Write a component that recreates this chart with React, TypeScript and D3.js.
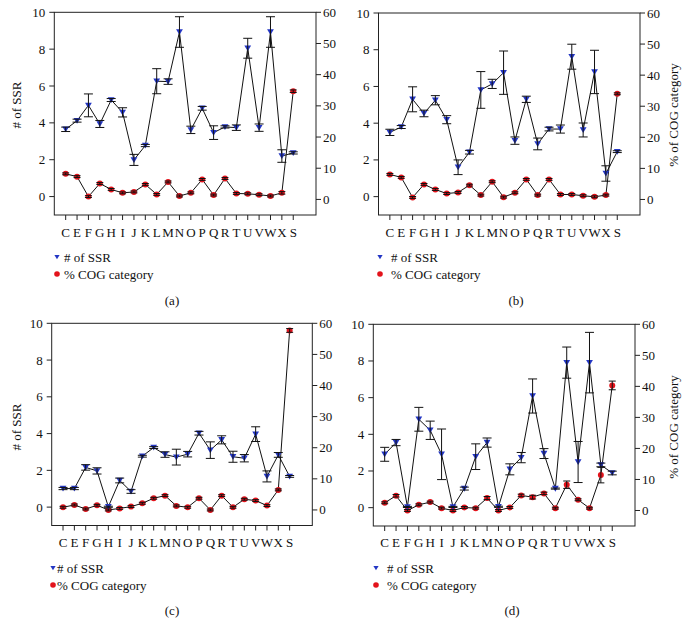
import React from 'react';
import * as d3 from 'd3';

// COG categories on the x axis
const cats = ["C", "E", "F", "G", "H", "I", "J", "K", "L", "M", "N", "O", "P", "Q", "R", "T", "U", "V", "W", "X", "S"];

// left axis ticks (# of SSR) and right axis ticks (% of COG category)
const leftTicks = [0, 2, 4, 6, 8, 10];
const rightTicks = [0, 10, 20, 30, 40, 50, 60];

// panel (a)
const ssrA = [3.65, 4.12, 4.95, 3.94, 5.24, 4.57, 1.99, 2.77, 6.26, 6.24, 8.93, 3.62, 4.79, 3.47, 3.78, 3.74, 8.05, 3.74, 8.93, 2.2, 2.37];
const ssrErrA = [0.12, 0.08, 0.62, 0.19, 0.08, 0.25, 0.3, 0.06, 0.68, 0.15, 0.83, 0.2, 0.1, 0.37, 0.06, 0.15, 0.54, 0.2, 0.83, 0.34, 0.06];
const cogA = [8.2, 7.3, 0.9, 5.1, 3.2, 2.1, 2.4, 4.8, 1.6, 5.6, 1.1, 2.1, 6.4, 1.4, 6.7, 1.9, 1.8, 1.5, 1.1, 2.1, 34.7];
const cogErrA = [0.3, 0.3, 0.3, 0.3, 0.3, 0.3, 0.3, 0.3, 0.3, 0.3, 0.3, 0.3, 0.3, 0.3, 0.3, 0.3, 0.3, 0.3, 0.3, 0.4, 0.4];

// panel (b)
const ssrB = [3.5, 3.79, 5.3, 4.53, 5.25, 4.19, 1.6, 2.42, 5.81, 6.14, 6.75, 3.05, 5.3, 2.87, 3.68, 3.68, 7.62, 3.63, 6.79, 1.26, 2.45];
const ssrErrB = [0.17, 0.08, 0.68, 0.18, 0.25, 0.22, 0.4, 0.1, 1.0, 0.25, 1.18, 0.2, 0.17, 0.32, 0.1, 0.22, 0.68, 0.38, 1.18, 0.42, 0.05];
const cogB = [8.06, 7.1, 0.65, 4.84, 3.2, 1.9, 2.26, 4.6, 1.4, 5.7, 0.75, 2.15, 6.45, 1.4, 6.45, 1.6, 1.6, 1.2, 0.86, 1.4, 34];
const cogErrB = [0.3, 0.3, 0.3, 0.3, 0.3, 0.3, 0.3, 0.3, 0.3, 0.3, 0.3, 0.3, 0.3, 0.3, 0.3, 0.3, 0.3, 0.3, 0.3, 0.3, 0.3];

// panel (c)
const ssrC = [1.01, 1.01, 2.16, 1.97, 0.02, 1.45, 0.85, 2.77, 3.24, 2.86, 2.72, 2.88, 4.02, 3.1, 3.66, 2.74, 2.66, 3.97, 1.67, 2.84, 1.67];
const ssrErrC = [0.06, 0.06, 0.15, 0.17, 0.03, 0.13, 0.1, 0.05, 0.05, 0.15, 0.43, 0.15, 0.1, 0.45, 0.22, 0.3, 0.2, 0.4, 0.3, 0.13, 0.05];
const cogC = [0.86, 1.6, 0.3, 1.5, 0, 0.5, 1.07, 2.15, 3.76, 4.6, 1.3, 0.86, 3.76, 0, 4.6, 0.86, 3.44, 3.0, 1.4, 6.45, 57.7];
const cogErrC = [0.3, 0.3, 0.3, 0.3, 0.3, 0.3, 0.3, 0.3, 0.3, 0.3, 0.3, 0.3, 0.3, 0.3, 0.3, 0.3, 0.3, 0.3, 0.3, 0.3, 0.6];

// panel (d)
const ssrD = [2.91, 3.55, 0.04, 4.82, 4.22, 2.91, 0.04, 1.04, 2.78, 3.55, 0.05, 2.09, 2.73, 6.09, 2.95, 1.04, 7.91, 2.49, 7.91, 2.33, 1.89];
const ssrErrD = [0.38, 0.17, 0.03, 0.65, 0.5, 1.38, 0.03, 0.08, 0.7, 0.25, 0.03, 0.3, 0.28, 0.93, 0.27, 0.03, 0.85, 1.12, 1.65, 0.1, 0.1];
const cogD = [2.48, 4.74, 0, 1.83, 2.7, 0.75, 0, 0.97, 0.75, 4.0, 0, 0.97, 4.85, 4.3, 5.5, 0.75, 8.3, 3.45, 0.75, 11.4, 40.3];
const cogErrD = [0.3, 0.4, 0.3, 0.3, 0.3, 0.3, 0.3, 0.3, 0.3, 0.5, 0.3, 0.3, 0.4, 0.6, 0.4, 0.3, 1.2, 0.3, 0.3, 2.5, 1.4];

const FONT = 'Liberation Serif, Times New Roman, serif';
const BLUE = '#2336c4';
const RED = '#e3131b';

interface PanelProps {
  ssr: number[];
  ssrErr: number[];
  cog: number[];
  cogErr: number[];
  x0: number; x1: number; y0: number; y1: number;
  caption: string;
  capX: number; capY: number;
  labelY: number;
  legY: number;
  legMarkX: number; legTextX: number;
  leftTitle?: { x: number; y: number };
  rightTitle?: { x: number; y: number };
}

const Tri: React.FC<{ x: number; y: number; s?: number }> = ({ x, y, s = 3.4 }) => (
  <path d={`M${x - s},${y - s * 0.8}L${x + s},${y - s * 0.8}L${x},${y + s * 0.9}Z`} fill={BLUE} />
);

const Panel: React.FC<PanelProps> = (p) => {
  const x = d3.scaleLinear().domain([0, 23]).range([p.x0, p.x1]);
  const yl = d3.scaleLinear().domain([-1, 10]).range([p.y1, p.y0]);
  const yr = d3.scaleLinear().domain([-5, 60]).range([p.y1, p.y0]);

  const ssrLine = d3.line<number>().x((_, i) => x(i + 1)).y(d => yl(d));
  const cogLine = d3.line<number>().x((_, i) => x(i + 1)).y(d => yr(d));

  const errBar = (cx: number, top: number, bot: number, w: number, key: string) => (
    <g key={key} stroke="#111" strokeWidth={1} fill="none">
      <line x1={cx} x2={cx} y1={top} y2={bot} />
      <line x1={cx - w} x2={cx + w} y1={top} y2={top} />
      <line x1={cx - w} x2={cx + w} y1={bot} y2={bot} />
    </g>
  );

  return (
    <g style={{ fontFamily: FONT }} fontSize={13} fill="#111">
      {/* frame */}
      <rect x={p.x0} y={p.y0} width={p.x1 - p.x0} height={p.y1 - p.y0} fill="none" stroke="#222" strokeWidth={1} />
      {leftTicks.map(t => (
        <g key={'l' + t}>
          <line x1={p.x0 - 5} x2={p.x0} y1={yl(t)} y2={yl(t)} stroke="#222" />
          <text x={p.x0 - 9} y={yl(t)} textAnchor="end" dominantBaseline="central">{t}</text>
        </g>
      ))}
      {rightTicks.map(t => (
        <g key={'r' + t}>
          <line x1={p.x1} x2={p.x1 + 5} y1={yr(t)} y2={yr(t)} stroke="#222" />
          <text x={p.x1 + 7} y={yr(t)} textAnchor="start" dominantBaseline="central">{t}</text>
        </g>
      ))}
      {cats.map((c, i) => (
        <g key={'x' + c}>
          <line x1={x(i + 1)} x2={x(i + 1)} y1={p.y1} y2={p.y1 + 5} stroke="#222" />
          <text x={x(i + 1)} y={p.labelY} textAnchor="middle" dominantBaseline="central">{c}</text>
        </g>
      ))}
      {p.leftTitle && (
        <text transform={`translate(${p.leftTitle.x},${p.leftTitle.y}) rotate(-90)`} textAnchor="middle" dominantBaseline="central">
          # of SSR
        </text>
      )}
      {p.rightTitle && (
        <text transform={`translate(${p.rightTitle.x},${p.rightTitle.y}) rotate(-90)`} textAnchor="middle" dominantBaseline="central">
          % of COG category
        </text>
      )}

      {/* series lines */}
      <path d={ssrLine(p.ssr) || ''} fill="none" stroke="#111" strokeWidth={1} />
      <path d={cogLine(p.cog) || ''} fill="none" stroke="#111" strokeWidth={1} />

      {/* markers */}
      {p.cog.map((v, i) => (
        <circle key={'c' + i} cx={x(i + 1)} cy={yr(v)} r={3} fill={RED} />
      ))}
      {p.ssr.map((v, i) => (
        <Tri key={'t' + i} x={x(i + 1)} y={yl(v)} />
      ))}

      {/* error bars */}
      {p.ssr.map((v, i) => errBar(x(i + 1), yl(v + p.ssrErr[i]), yl(v - p.ssrErr[i]), 4.5, 'se' + i))}
      {p.cog.map((v, i) => errBar(x(i + 1), yr(v + p.cogErr[i]), yr(v - p.cogErr[i]), 3.5, 'ce' + i))}

      {/* legend */}
      <Tri x={p.legMarkX} y={p.legY} s={2.6} />
      <text x={p.legTextX} y={p.legY} dominantBaseline="central">
        # of SSR
      </text>
      <circle cx={p.legMarkX} cy={p.legY + 17} r={2.8} fill={RED} />
      <text x={p.legTextX} y={p.legY + 17} dominantBaseline="central">
        % COG category
      </text>

      <text x={p.capX} y={p.capY} textAnchor="middle" dominantBaseline="central">{p.caption}</text>
    </g>
  );
};

const App: React.FC = () => (
  <svg width={689} height={637} style={{ position: 'absolute', left: 0, top: 0, background: '#fff' }}>
    <rect width={689} height={637} fill="#fff" />
    <Panel ssr={ssrA} ssrErr={ssrErrA} cog={cogA} cogErr={cogErrA}
      x0={54.3} x1={316} y0={12.3} y1={215}
      labelY={232} legY={257} legMarkX={57} legTextX={64}
      caption="(a)" capX={172} capY={300}
      leftTitle={{ x: 16, y: 105 }} />
    <Panel ssr={ssrB} ssrErr={ssrErrB} cog={cogB} cogErr={cogErrB}
      x0={378.5} x1={640} y0={13} y1={215}
      labelY={232} legY={257} legMarkX={380} legTextX={391}
      caption="(b)" capX={516} capY={300}
      rightTitle={{ x: 673, y: 115 }} />
    <Panel ssr={ssrC} ssrErr={ssrErrC} cog={cogC} cogErr={cogErrC}
      x0={51.7} x1={312.3} y0={323.3} y1={525.5}
      labelY={542} legY={568} legMarkX={53} legTextX={57}
      caption="(c)" capX={172} capY={610}
      leftTitle={{ x: 16, y: 427 }} />
    <Panel ssr={ssrD} ssrErr={ssrErrD} cog={cogD} cogErr={cogErrD}
      x0={373.3} x1={635} y0={324.3} y1={526}
      labelY={542} legY={568} legMarkX={376} legTextX={387}
      caption="(d)" capX={512} capY={610}
      rightTitle={{ x: 673, y: 427 }} />
  </svg>
);

export default App;
